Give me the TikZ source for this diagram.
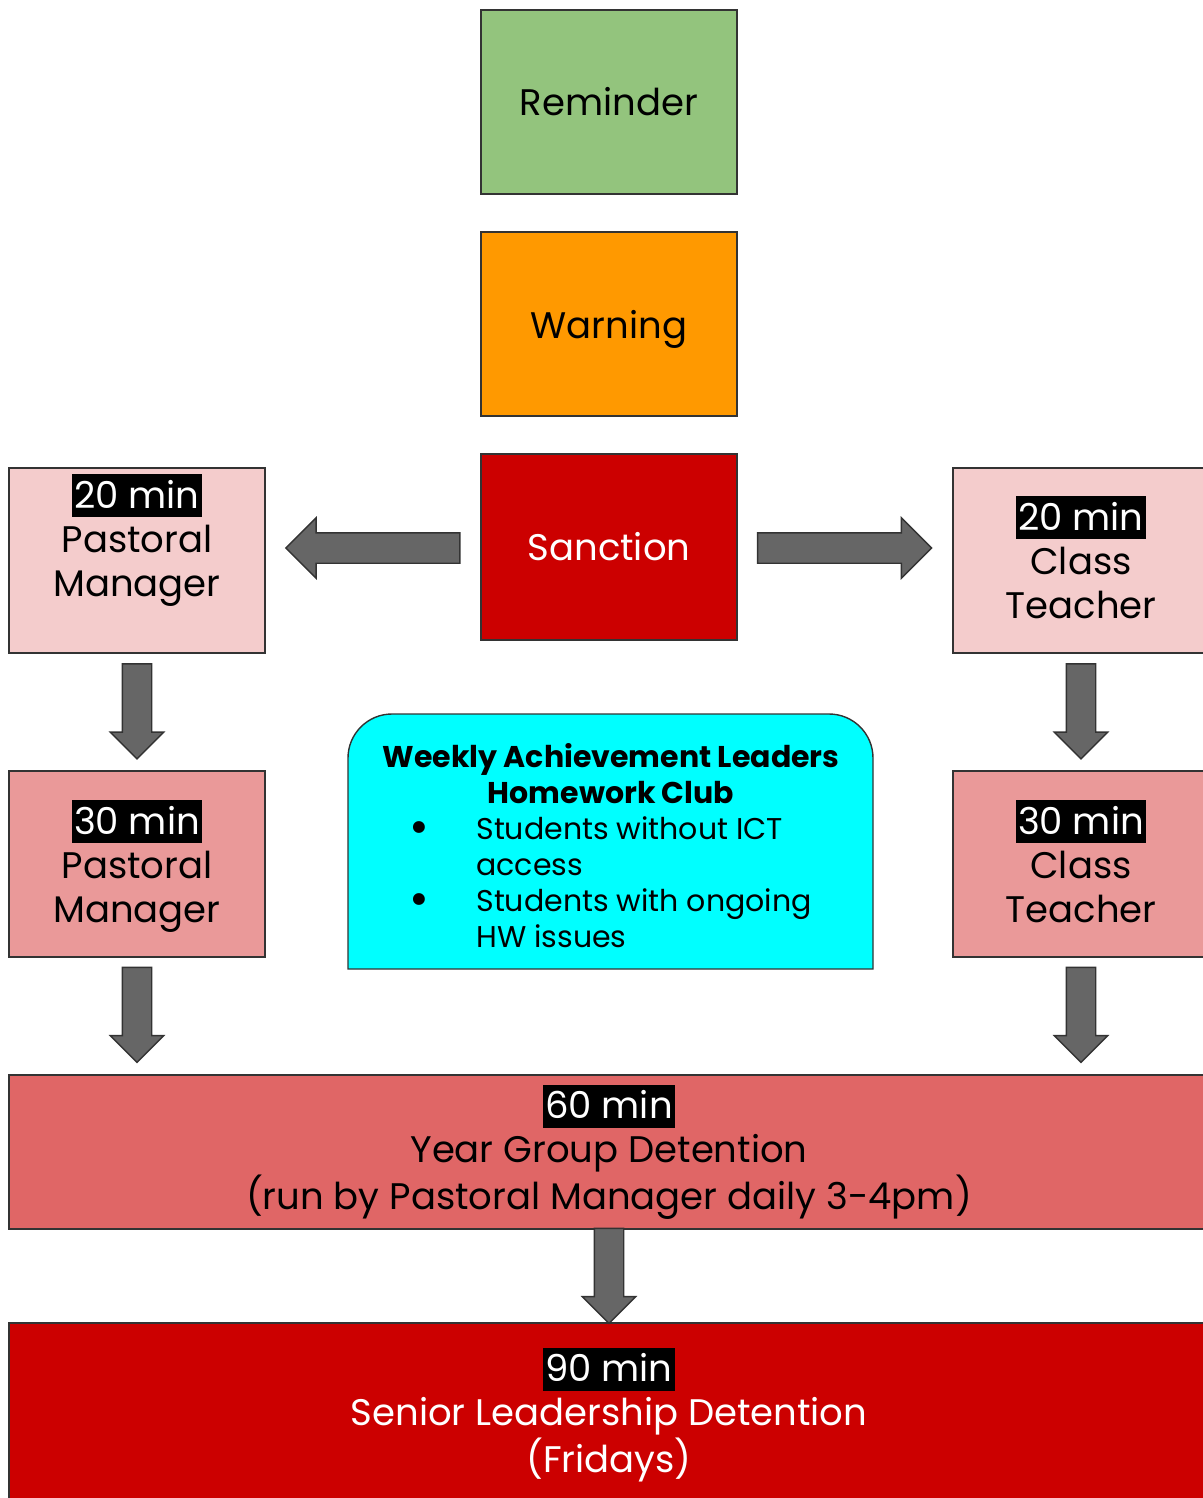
\documentclass[tikz,border=0pt]{standalone}
\usepackage{fontspec}
\setmainfont{Poppins}
\usetikzlibrary{shapes.arrows}
\definecolor{remc}{HTML}{93C47D}
\definecolor{warnc}{HTML}{FF9900}
\definecolor{sanc}{HTML}{CC0000}
\definecolor{pinka}{HTML}{F4CCCC}
\definecolor{pinkb}{HTML}{EA9999}
\definecolor{redc}{HTML}{E06666}
\definecolor{cyanc}{HTML}{00FFFF}
\definecolor{arrc}{HTML}{666666}
\definecolor{edgec}{HTML}{333333}
\newcommand{\hlmin}[1]{{\setlength{\fboxsep}{1pt}\colorbox{black}{\color{white}\rule[-3.5pt]{0pt}{19.5pt}#1}}}
\tikzset{
  box/.style={draw=edgec, line width=0.7pt, anchor=north west, inner sep=0pt, outer sep=0pt},
  lbl/.style={anchor=base, align=center, inner sep=0pt, font=\fontsize{18.5}{22}\selectfont},
  wlbl/.style={inner sep=0pt, font=\fontsize{15}{18}\selectfont},
  arr/.style={single arrow, draw=edgec, fill=arrc, line width=0.7pt, outer sep=0pt},
  harr/.style={arr, inner sep=7.25pt, minimum height=87pt, single arrow head extend=7.5pt},
  varr/.style={arr, inner sep=7pt, minimum height=47.5pt, single arrow head extend=6pt, shape border rotate=270}
}
\begin{document}
\begin{tikzpicture}[x=0.5pt,y=-0.5pt]
\useasboundingbox (0,0) rectangle (1203,1498);
% boxes
\node[box, fill=remc, minimum width=128pt, minimum height=92pt] (rem) at (481,10) {};
\node[box, fill=warnc, minimum width=128pt, minimum height=92pt] (warn) at (481,232) {};
\node[box, fill=sanc, minimum width=128pt, minimum height=93pt] (sanc) at (481,454) {};
\node[box, fill=pinka, minimum width=128pt, minimum height=92.5pt] (pm20) at (9,468) {};
\node[box, fill=pinka, minimum width=130pt, minimum height=92.5pt] (ct20) at (953,468) {};
\node[box, fill=pinkb, minimum width=128pt, minimum height=93pt] (pm30) at (9,771) {};
\node[box, fill=pinkb, minimum width=130pt, minimum height=93pt] (ct30) at (953,771) {};
\node[box, fill=redc, minimum width=602pt, minimum height=77pt] (ygd) at (9,1075) {};
\node[box, fill=sanc, minimum width=602pt, minimum height=89pt] (sld) at (9,1323) {};
% weekly club box
\draw[draw=edgec, line width=0.7pt, fill=cyanc] (348,969) [rounded corners=22pt] -- (348,714) -- (873,714) [sharp corners] -- (873,969) -- cycle;
\coordinate (wk) at (610.5,841.5);
% texts
\node[lbl] (remt) at (609,115.5) {Reminder};
\node[lbl] (warnt) at (609,338) {Warning};
\node[lbl, text=white] (sanct) at (609,560) {Sanction};
\node[lbl] (pm20t) at (137,596) {\hlmin{20 min}\\Pastoral\\Manager};
\node[lbl] (ct20t) at (1081,618) {\hlmin{20 min}\\Class\\Teacher};
\node[lbl] (pm30t) at (137,922) {\hlmin{30 min}\\Pastoral\\Manager};
\node[lbl] (ct30t) at (1081,922) {\hlmin{30 min}\\Class\\Teacher};
\node[lbl] (ygdt) at (609,1209) {\hlmin{60 min}\\Year Group Detention\\(run by Pastoral Manager daily 3-4pm)};
\node[lbl, text=white] (sldt) at (609,1472) {\hlmin{90 min}\\Senior Leadership Detention\\(Fridays)};
\node[wlbl, anchor=base, align=center, font=\fontsize{15}{18}\selectfont\bfseries] (wkt) at (611,803) {Weekly Achievement Leaders\\Homework Club};
\node[wlbl, anchor=base west, align=left] (wkl) at (476,947) {Students without ICT\\access\\Students with ongoing\\HW issues};
\node[wlbl, anchor=base, font=\fontsize{24}{18}\selectfont] (b1) at (419,843) {\textbullet};
\node[wlbl, anchor=base, font=\fontsize{24}{18}\selectfont] (b2) at (419,915) {\textbullet};
% arrows
\node[harr, shape border rotate=180] (a1) at (380.5,548) {};
\node[harr] (a2) at (837,548) {};
\node[varr] (a3) at (137,704) {};
\node[varr] (a4) at (137,1007.5) {};
\node[varr] (a5) at (1081,704) {};
\node[varr] (a6) at (1081,1007.5) {};
\node[varr] (a7) at (609,1268.5) {};
\end{tikzpicture}
\end{document}
